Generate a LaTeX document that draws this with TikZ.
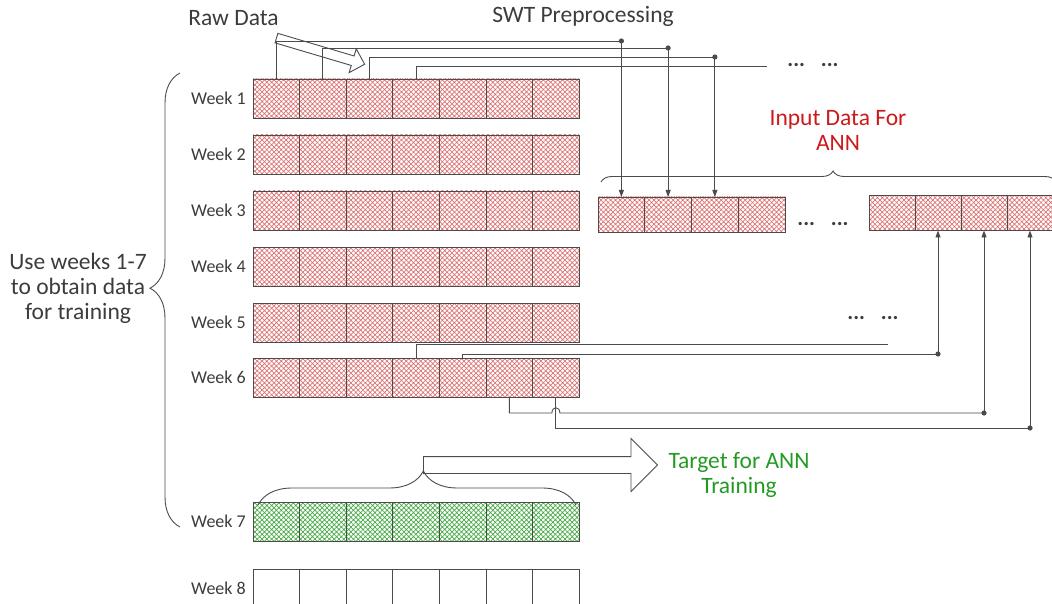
\documentclass[tikz,border=0pt]{standalone}
\usepackage{fontspec}
\setmainfont{Carlito}
\usetikzlibrary{positioning, calc, arrows.meta, patterns.meta, shapes.arrows, decorations.pathreplacing}

\definecolor{linegray}{RGB}{75,75,75}
\definecolor{txtgray}{RGB}{60,60,60}
\definecolor{hatchred}{RGB}{220,115,115}
\definecolor{hatchgreen}{RGB}{70,170,70}
\definecolor{inred}{RGB}{205,25,25}
\definecolor{tgtgreen}{RGB}{35,155,35}

\tikzset{
  cell/.style={draw=linegray, line width=0.9pt, inner sep=0pt, outer sep=0pt,
    minimum width=46.6pt, minimum height=39pt},
  redcell/.style={cell, pattern={Hatch[angle=45, distance=3.4pt, line width=0.7pt]}, pattern color=hatchred},
  greencell/.style={cell, pattern={Hatch[angle=45, distance=3.4pt, line width=0.7pt]}, pattern color=hatchgreen},
  incell/.style={redcell, minimum height=35pt},
  weeklabel/.style={text=txtgray, font=\fontsize{18}{21}\selectfont, inner sep=0pt},
  biglabel/.style={text=txtgray, font=\fontsize{23.5}{25}\selectfont, align=center, inner sep=0pt},
  hollow/.style={single arrow, draw=linegray, line width=0.9pt, fill=white,
    single arrow head indent=0pt},
  wire/.style={draw=linegray, line width=0.9pt},
  tip/.style={-{Triangle[length=7pt, width=5pt]}}
}

\begin{document}
\begin{tikzpicture}[x=1pt, y=-1pt]
\useasboundingbox (0,0) rectangle (1052,604);

% week rows
\foreach \r/\yc in {1/98.5, 2/154.5, 3/210.5, 4/266.5, 5/322.5, 6/377.5} {
  \foreach \c in {1,...,7}
    \node[redcell] (w\r c\c) at ({253+46.6*(\c-0.5)}, \yc) {};
  \node[weeklabel, left=7pt of w\r c1] (lab\r) {Week \r};
}
\foreach \c in {1,...,7}
  \node[greencell] (w7c\c) at ({253+46.6*(\c-0.5)}, 521.5) {};
\node[weeklabel, left=7pt of w7c1] (lab7) {Week 7};
\foreach \c in {1,...,7}
  \node[cell, fill=white] (w8c\c) at ({253+46.6*(\c-0.5)}, 588.5) {};
\node[weeklabel, left=7pt of w8c1] (lab8) {Week 8};

% input vectors
\foreach \i in {1,...,4} {
  \node[incell, minimum width=46.75pt] (ia\i) at ({598+46.75*(\i-0.5)}, 214.5) {};
  \node[incell, minimum width=46pt] (ib\i) at ({869+46*(\i-0.5)}, 213) {};
}

% texts
\node[biglabel] (raw) at (233.5, 18) {Raw Data};
\node[biglabel] (swt) at (583, 16) {SWT Preprocessing};
\node[biglabel, text=inred] (inp) at (838, 130) {Input Data For\\ANN};
\node[biglabel, text=tgtgreen] (tgt) at (739, 475) {Target for ANN\\Training};
\node[biglabel] (use) at (78, 288) {Use weeks 1-7\\to obtain data\\for training};
\node[biglabel, font=\fontsize{22}{25}\bfseries] (dots1) at (813, 65) {...\hspace{16pt}...};
\node[biglabel, font=\fontsize{22}{25}\bfseries] (dots2) at (823, 224) {...\hspace{16pt}...};
\node[biglabel, font=\fontsize{22}{25}\bfseries] (dots3) at (873, 318) {...\hspace{16pt}...};

% hollow arrows
\node[hollow, anchor=tail, rotate=-16.5, minimum height=92pt, inner xsep=0pt, inner ysep=4.5pt,
  single arrow head extend=7.5pt] (rawarrow) at (276, 38) {};
\node[hollow, anchor=tail, minimum height=234pt, inner xsep=0pt, inner ysep=8pt,
  single arrow head extend=18pt] (tgtarrow) at (423, 465) {};

% braces
\draw[wire, decorate, decoration={brace, amplitude=30pt, aspect=0.526}] (180, 527) -- (180, 73);
\draw[wire, decorate, decoration={brace, amplitude=34pt, aspect=0.52}] (258, 505) -- (576, 505);
\draw[wire, decorate, decoration={brace, amplitude=11pt, aspect=0.51}] (601, 182) -- (1056, 182);

% week 1 -> input vector
\path (0,41) coordinate (lv1) (0,48) coordinate (lv2) (0,57) coordinate (lv3);
\foreach \c in {1,2,3} {
  \coordinate (t\c) at (ia\c.north |- lv\c);
  \draw[wire] (w1c\c.north) |- (t\c);
  \draw[wire, tip] (t\c) -- (ia\c.north);
}
\coordinate (t4) at (767, 66);
\draw[wire] (w1c4.north) |- (t4);

% week 6 -> input vector
\path (0,354) coordinate (lv5) (0,413) coordinate (lv6) (0,428) coordinate (lv7);
\coordinate (s4) at (888, 344);
\draw[wire] (w6c4.north) |- (s4);
\coordinate (b5) at (ib2.south |- lv5);
\coordinate (b6) at (ib3.south |- lv6);
\coordinate (b7) at (ib4.south |- lv7);
\coordinate (j1) at ([xshift=-4pt]w6c7.south |- lv6);
\coordinate (j2) at ([xshift=4pt]w6c7.south |- lv6);
\draw[wire] (w6c5.north) |- (b5);
\draw[wire] (w6c6.south) |- (j1) .. controls +(0,-7) and +(0,-7) .. (j2) -- (b6);
\draw[wire] (w6c7.south) |- (b7);
\draw[wire, tip] (b5) -- (ib2.south);
\draw[wire, tip] (b6) -- (ib3.south);
\draw[wire, tip] (b7) -- (ib4.south);

\foreach \p in {t1, t2, t3, b5, b6, b7}
  \fill[linegray] (\p) circle (2.6pt);

\end{tikzpicture}
\end{document}
